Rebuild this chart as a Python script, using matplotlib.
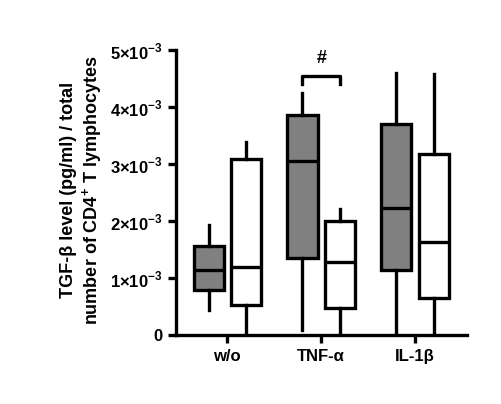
import matplotlib
matplotlib.use('Agg')
import matplotlib.pyplot as plt

plt.rcParams['font.family'] = ['Liberation Sans', 'DejaVu Sans']
plt.rcParams['mathtext.fontset'] = 'custom'
plt.rcParams['mathtext.rm'] = 'Liberation Sans:bold'
plt.rcParams['mathtext.bf'] = 'Liberation Sans:bold'

groups = ['w/o', 'TNF-α', 'IL-1β']
# per box: whislo, q1, med, q3, whishi  (x1e-3)
grey_stats = [(0.44, 0.80, 1.15, 1.57, 1.94),
              (0.09, 1.36, 3.06, 3.87, 4.24),
              (0.00, 1.15, 2.24, 3.71, 4.60)]
white_stats = [(0.00, 0.53, 1.20, 3.09, 3.39),
               (0.00, 0.48, 1.29, 2.00, 2.21),
               (0.00, 0.65, 1.63, 3.18, 4.58)]
yticks = [0, 1, 2, 3, 4, 5]

def to_bxp(s):
    lo, q1, med, q3, hi = s
    return dict(whislo=lo * 1e-3, q1=q1 * 1e-3, med=med * 1e-3, q3=q3 * 1e-3, whishi=hi * 1e-3, fliers=[])

fig = plt.figure(figsize=(5.02, 4.04), dpi=100)
ax = fig.add_axes([0.35, 0.17, 0.58, 0.72])

lw = 2.4
props = dict(showfliers=False, showcaps=False, patch_artist=True, widths=0.32,
             boxprops=dict(linewidth=lw), whiskerprops=dict(linewidth=lw),
             medianprops=dict(color='black', linewidth=lw))
pos_g = [i - 0.2 for i in range(3)]
pos_w = [i + 0.2 for i in range(3)]
bg = ax.bxp([to_bxp(s) for s in grey_stats], positions=pos_g, **props)
bw = ax.bxp([to_bxp(s) for s in white_stats], positions=pos_w, **props)
for b in bg['boxes']:
    b.set_facecolor('#808080')
for b in bw['boxes']:
    b.set_facecolor('white')

# significance bracket
yb = 4.55e-3
ax.plot([pos_g[1], pos_g[1], pos_w[1], pos_w[1]], [yb - 0.15e-3, yb, yb, yb - 0.15e-3], color='black', lw=lw)
ax.text(1, yb + 0.15e-3, '#', ha='center', va='bottom', fontsize=13, fontweight='bold')

ax.set_xlim(-0.55, 2.55)
ax.set_ylim(0, 5.1e-3)
ax.set_yticks([t * 1e-3 for t in yticks])
ax.set_yticklabels(['0'] + [r'$%d{\times}10^{-3}$' % t for t in yticks[1:]])
ax.set_xticks(range(3))
ax.set_xticklabels(groups)
for lab in ax.get_xticklabels() + ax.get_yticklabels():
    lab.set_fontweight('bold')
    lab.set_fontsize(12)
ax.spines['top'].set_visible(False)
ax.spines['right'].set_visible(False)
ax.spines['left'].set_bounds(0, 5e-3)
for s in ['left', 'bottom']:
    ax.spines[s].set_linewidth(lw)
ax.tick_params(width=lw, length=6)
ax.set_ylabel('TGF-β level (pg/ml) / total\nnumber of CD4$^{+}$ T lymphocytes', fontsize=13, fontweight='bold')

fig.savefig('out.png', dpi=100)
